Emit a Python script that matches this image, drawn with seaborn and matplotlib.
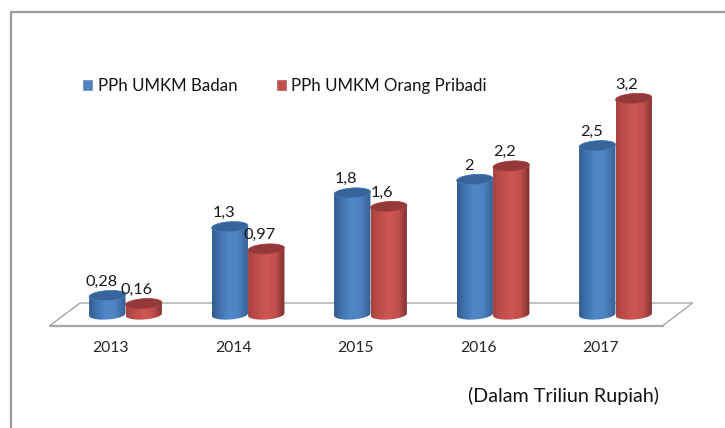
import numpy as np
import pandas as pd
import seaborn as sns
import matplotlib
matplotlib.use("Agg")
import matplotlib.pyplot as plt
from matplotlib.colors import LinearSegmentedColormap
from matplotlib.lines import Line2D
from matplotlib.path import Path
from matplotlib.patches import PathPatch
from matplotlib.transforms import Affine2D, ScaledTranslation

years = ["2013", "2014", "2015", "2016", "2017"]
badan = [0.28, 1.3, 1.8, 2, 2.5]
pribadi = [0.16, 0.97, 1.6, 2.2, 3.2]
series_names = ["PPh UMKM Badan", "PPh UMKM Orang Pribadi"]
note = "(Dalam Triliun Rupiah)"

W, H = 725, 428
sns.set_theme(style="white")
plt.rcParams["font.family"] = ["Lato", "DejaVu Sans"]

df = pd.DataFrame({
    "year": years * 2,
    "value": badan + pribadi,
    "series": [series_names[0]] * 5 + [series_names[1]] * 5,
})

fig = plt.figure(figsize=(W / 100, H / 100), dpi=100, facecolor="white")
ax = fig.add_axes([0, 0, 1, 1])
sns.barplot(data=df, x="year", y="value", hue="series", order=years,
            palette=["#4F81BD", "#C0504D"], width=0.595, gap=0, errorbar=None,
            saturation=1, ax=ax)

# linear scale: category spacing and value height in pixels
PX_CAT, X0_PX, PX_UNIT, Y0_PX = 122.5, 125.5, 67.5, 314.5
xlim = (-X0_PX / PX_CAT, (W - X0_PX) / PX_CAT)
ylim = ((Y0_PX - H) / PX_UNIT, Y0_PX / PX_UNIT)
ax.set_xlim(xlim)
ax.set_ylim(ylim)

px = Affine2D().scale(1, -1).translate(0, H)  # top-left pixel coordinates

# frame and floor
ax.add_line(Line2D([11, 11, W], [H, 12, 12], transform=px, color="#9c9c9c", lw=1.6, zorder=1))
ax.add_line(Line2D([50, 80, 692.5, 663], [325.5, 303, 303, 325.5], transform=px,
                   color="#a6a6a6", lw=1.0, zorder=1))
ax.add_line(Line2D([50, 663], [325.5, 325.5], transform=px, color="#a6a6a6", lw=1.6, zorder=1))

ramps = {
    0: LinearSegmentedColormap.from_list("b", [(0, "#2f5a8e"), (0.18, "#3f70aa"), (0.45, "#5186c8"),
                                               (0.7, "#4f83c3"), (1, "#355f93")]),
    1: LinearSegmentedColormap.from_list("r", [(0, "#a8413f"), (0.2, "#bc4d4a"), (0.5, "#cf5654"),
                                               (0.75, "#c04f4d"), (1, "#7c2f2d")]),
}
tops = {0: ("#37659b", "#4a7ebb"), 1: ("#94393a", "#b04744")}
RY, TILT = 5.0, np.radians(4.0)
grad = np.linspace(0, 1, 256).reshape(1, -1)

def ellipse(cx, cy, rx, t):
    x = rx * np.cos(t)
    y = RY * np.sin(t)
    return cx + x * np.cos(TILT) + y * np.sin(TILT), cy - x * np.sin(TILT) + y * np.cos(TILT)

bars = list(ax.containers)
inv = ax.transData
z = 3
for s, cont in enumerate(bars):
    for bar in cont:
        bx, bw, bh = bar.get_x(), bar.get_width(), bar.get_height()
        (xl, yb) = inv.transform((bx, 0))
        (xr, yt) = inv.transform((bx + bw, bh))
        yb, yt = H - yb, H - yt
        cx, rx = (xl + xr) / 2, (xr - xl) / 2
        bar.set_visible(False)
        tb = np.linspace(np.pi, 0, 50)
        xb, yb_e = ellipse(cx, yb, rx, tb)
        tt = np.linspace(0, -np.pi, 50)
        xt, yt_e = ellipse(cx, yt, rx, tt)
        verts = np.column_stack([np.r_[xb, xt], np.r_[yb_e, yt_e]])
        clip = Path(np.vstack([verts, verts[0]]), closed=True)
        im = ax.imshow(grad, cmap=ramps[s], aspect="auto", vmin=0, vmax=1, zorder=z,
                       extent=(bx, bx + bw, ylim[0], ylim[1]), interpolation="bilinear")
        im.set_clip_path(clip, transform=px)
        t = np.linspace(0, 2 * np.pi, 80)
        ex, ey = ellipse(cx, yt, rx, t)
        ax.add_patch(PathPatch(Path(np.column_stack([ex, ey])), transform=px,
                               facecolor=tops[s][0], edgecolor=tops[s][1], lw=0.5, zorder=z + 0.5))
        z += 1

ax.set_xlim(xlim)
ax.set_ylim(ylim)

# value labels
for s, (cont, dx) in enumerate(zip(bars, (-6, -7))):
    for bar in cont:
        val = bar.get_height()
        ax.annotate(f"{val:g}".replace(".", ","),
                    (bar.get_x() + bar.get_width() / 2, val),
                    xytext=(dx * 0.72, 14 * 0.72), textcoords="offset points",
                    ha="center", va="center", fontsize=11.8, color="#1a1a1a", zorder=50)

# axis
for sp in ax.spines.values():
    sp.set_visible(False)
ax.spines["bottom"].set_position(("data", 0))
ax.set_xlabel("")
ax.set_ylabel("")
ax.set_yticks([])
ax.set_xticks(range(len(years)), years)
ax.tick_params(axis="x", length=0, pad=19, labelsize=11.3, labelcolor="#262626")
for lab in ax.get_xticklabels():
    lab.set_transform(lab.get_transform() + ScaledTranslation(-15 / 100, 0, fig.dpi_scale_trans))

# legend
handles, labels = ax.get_legend_handles_labels()
ax.legend(handles, labels, ncol=2, frameon=False, fontsize=12.2, loc="center left",
          bbox_to_anchor=(82, 86), bbox_transform=px, borderpad=0, borderaxespad=0,
          handlelength=0.65, handleheight=0.65, handletextpad=0.28, columnspacing=2.25,
          labelcolor="#141414")

ax.text(468, 396, note, transform=px, ha="left", va="center", fontsize=14.2, color="#141414")

fig.savefig("out.png", dpi=100, facecolor="white")
